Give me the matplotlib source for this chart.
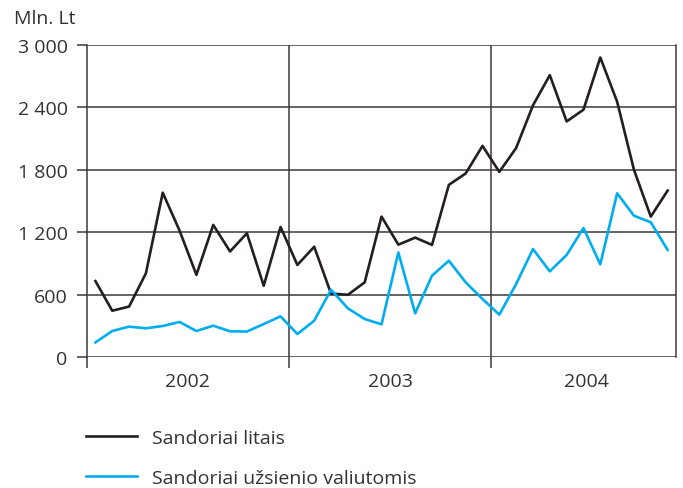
import numpy as np
import matplotlib
matplotlib.use("Agg")
import matplotlib.pyplot as plt

# monthly data, Jan 2002 - Nov 2004 (mln. Lt)
litais = [730, 445, 485, 805, 1580, 1215, 790, 1270, 1015, 1190,
          685, 1250, 885, 1060, 610, 598, 718,
          1350, 1080, 1148, 1078, 1655, 1765, 2030, 1780, 2010,
          2420, 2710, 2265, 2378, 2880, 2455, 1800, 1350, 1600]
valiutomis = [140, 250, 292, 276, 298, 337, 250, 301, 247, 245,
              317, 391, 221, 349, 647, 468, 365,
              314, 1005, 420, 782, 926, 718, 558, 407, 702,
              1038, 824, 981, 1240, 891, 1574, 1359, 1295, 1030]
years = ["2002", "2003", "2004"]
yticks = [0, 600, 1200, 1800, 2400, 3000]
ytick_labels = ["0", "600", "1 200", "1 800", "2 400", "3 000"]
series_names = ["Sandoriai litais", "Sandoriai užsienio valiutomis"]

plt.rcParams['font.family'] = ['Open Sans', 'DejaVu Sans']
black = '#231f20'
blue = '#00aeef'
grid_c = '#3a3a3a'
txt_c = '#333333'
fs = 14

fig = plt.figure(figsize=(6.83, 4.89), dpi=100)
ax = fig.add_axes([0.1274, 0.2679, 0.8624, 0.638])

x = np.arange(len(litais)) + 0.5
ax.plot(x, litais, color=black, lw=1.9, label=series_names[0], zorder=3)
ax.plot(x, valiutomis, color=blue, lw=1.9, label=series_names[1], zorder=3)

ax.set_xlim(0, len(litais))
ax.set_ylim(0, 3000)

ax.set_yticks(yticks)
ax.set_yticklabels(ytick_labels)
for v in yticks:
    ax.axhline(v, color=grid_c, lw=1.1, zorder=1)

ax.set_xticks([0, 12, 24])
ax.set_xticklabels([])
for v in [12, 24]:
    ax.axvline(v, color=grid_c, lw=1.1, zorder=1)
ax.set_xticks([6, 18, 29.7], minor=True)
ax.set_xticklabels(years, minor=True)
ax.tick_params(axis='x', which='minor', length=0, pad=11, labelsize=fs, labelcolor=txt_c)
ax.tick_params(axis='x', which='major', length=8, width=1.1, color=grid_c, direction='out')
ax.tick_params(axis='y', length=7, width=1.1, color=grid_c, pad=7, labelsize=fs, labelcolor=txt_c)

for s in ax.spines.values():
    s.set_color(grid_c)
    s.set_linewidth(1.1)
ax.spines['top'].set_visible(False)
ax.spines['bottom'].set_visible(False)

fig.text(0.02, 0.962, "Mln. Lt", fontsize=fs, color=txt_c, va='center')

leg = fig.legend(loc='upper left', bbox_to_anchor=(0.115, 0.136), frameon=False,
                 fontsize=fs, handlelength=2.6, handletextpad=0.8, labelspacing=1.12,
                 borderaxespad=0)
for t in leg.get_texts():
    t.set_color(txt_c)

fig.savefig("out.png", dpi=100)
